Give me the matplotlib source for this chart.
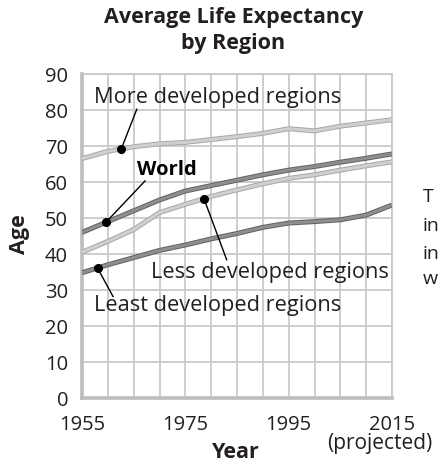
import numpy as np
import matplotlib
matplotlib.use("Agg")
import matplotlib.pyplot as plt
import matplotlib.patheffects as pe

plt.rcParams["font.family"] = ["Open Sans", "DejaVu Sans"]

years = [1955, 1960, 1965, 1970, 1975, 1980, 1985, 1990, 1995, 2000, 2005, 2010, 2015]
more_dev = [66.5, 68.5, 69.8, 70.6, 71.0, 71.8, 72.6, 73.5, 74.8, 74.2, 75.5, 76.4, 77.3]
world = [46.0, 49.0, 52.0, 55.0, 57.5, 59.0, 60.5, 62.0, 63.3, 64.3, 65.5, 66.6, 67.8]
less_dev = [40.5, 43.5, 46.8, 51.5, 53.8, 56.0, 57.8, 59.5, 61.0, 62.0, 63.3, 64.5, 65.6]
least_dev = [34.8, 37.0, 39.0, 41.0, 42.5, 44.2, 45.7, 47.4, 48.6, 49.0, 49.5, 50.8, 53.6]

x_ticks = [1955, 1975, 1995, 2015]
y_ticks = [0, 10, 20, 30, 40, 50, 60, 70, 80, 90]

INK = "#231f20"
LIGHT = ("#cfcfcf", "#a8a8a8")
DARK = ("#8e8e8e", "#626262")

W, H = 439, 468
fig = plt.figure(figsize=(W / 100, H / 100), dpi=100)
ax = fig.add_axes([82 / W, 1 - 398 / H, 310 / W, 324 / H])

ax.set_xlim(1955, 2015)
ax.set_ylim(0, 90)
ax.set_xticks(x_ticks)
ax.set_xticks(np.arange(1955, 2016, 5), minor=True)
ax.set_yticks(y_ticks)
ax.grid(True, which="both", axis="x", color="#c9c9c9", linewidth=1.3)
ax.grid(True, axis="y", color="#c9c9c9", linewidth=1.3)
ax.set_axisbelow(True)
ax.tick_params(which="both", length=0)
ax.tick_params(axis="x", pad=12, labelsize=14.5, labelcolor=INK)
ax.tick_params(axis="y", pad=10, labelsize=14.5, labelcolor=INK)
for s in ("top", "right"):
    ax.spines[s].set_color("#c9c9c9")
    ax.spines[s].set_linewidth(1.3)
for s in ("left", "bottom"):
    ax.spines[s].set_color("#bdbdbd")
    ax.spines[s].set_linewidth(2.6)

series = [
    (more_dev, LIGHT),
    (world, DARK),
    (less_dev, LIGHT),
    (least_dev, DARK),
]
for vals, (face, edge) in series:
    ax.plot(years, vals, color=face, linewidth=2.2, solid_capstyle="butt", zorder=3,
            path_effects=[pe.Stroke(linewidth=3.6, foreground=edge), pe.Normal()])

# label, series, anchor year, text position, leader start, bold
labels = [
    ("More developed regions", more_dev, 1962.6, (1957.3, 83.6), (1965.6, 80.2), "normal"),
    ("World", world, 1959.6, (1971.4, 63.3), (1967.2, 60.3), "bold"),
    ("Less developed regions", less_dev, 1978.6, (1968.3, 34.8), (1983.0, 38.4), "normal"),
    ("Least developed regions", least_dev, 1958.0, (1957.3, 25.8), (1961.0, 28.2), "normal"),
]
for text, vals, yr, tpos, lstart, weight in labels:
    yv = np.interp(yr, years, vals)
    ax.plot([lstart[0], yr], [lstart[1], yv], color="black", linewidth=1.0, zorder=4)
    ax.plot(yr, yv, "o", color="black", markersize=5.5, zorder=5)
    if weight == "bold":
        ax.text(tpos[0], tpos[1], text, ha="center", va="center", fontsize=14.5,
                fontweight="bold", color="black", zorder=6)
    else:
        ax.text(tpos[0], tpos[1], text, ha="left", va="center", fontsize=15.7,
                color=INK, zorder=6)

fig.text(233.5 / W, 1 - 17 / H, "Average Life Expectancy", ha="center", va="center",
         fontsize=15.5, fontweight="bold", color=INK)
fig.text(233.5 / W, 1 - 43 / H, "by Region", ha="center", va="center",
         fontsize=15.5, fontweight="bold", color=INK)
fig.text(20 / W, 1 - 234 / H, "Age", rotation=90, ha="center", va="center",
         fontsize=15.5, fontweight="bold", color=INK)
fig.text(236 / W, 1 - 452 / H, "Year", ha="center", va="center",
         fontsize=15.5, fontweight="bold", color=INK)
fig.text(380 / W, 1 - 444 / H, "(projected)", ha="center", va="center",
         fontsize=15, color=INK)

# text running in from the page on the right
for s, yy in zip(["T", "in", "in", "w"], [197, 226, 254, 279]):
    fig.text(423 / W, 1 - yy / H, s, ha="left", va="center", fontsize=14, color=INK)

fig.savefig("out.png", dpi=100, facecolor="white")
